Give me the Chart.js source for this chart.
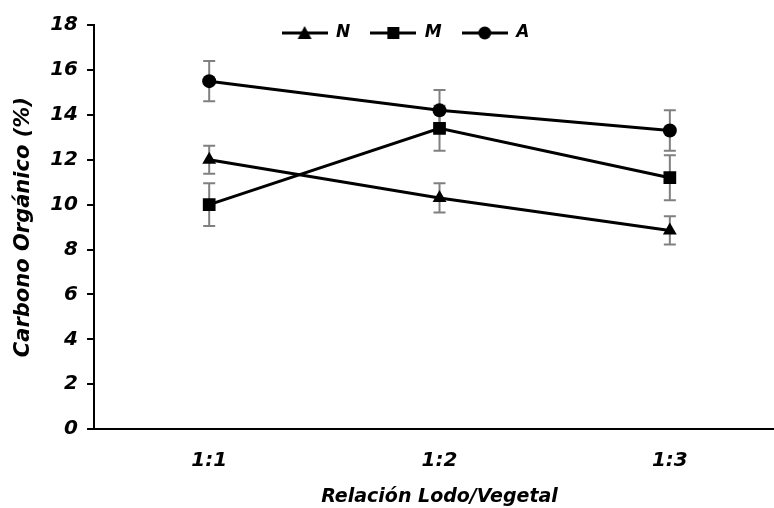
<!DOCTYPE html>
<html>
<head>
<meta charset="utf-8">
<script src="https://cdn.jsdelivr.net/npm/chart.js@4"></script>
<style>
  html, body { margin: 0; padding: 0; background: #fff; }
  #wrap { width: 774px; height: 508px; }
</style>
</head>
<body>
<div id="wrap"><canvas id="c" width="774" height="508"></canvas></div>
<script>
// Relación lodo/vegetal
const categories = ['1:1', '1:2', '1:3'];
// Carbono orgánico (%) por tratamiento
const seriesN = [12.0, 10.3, 8.85];
const seriesM = [10.0, 13.4, 11.2];
const seriesA = [15.5, 14.2, 13.3];
// Desviación (barras de error)
const errN = [0.62, 0.65, 0.63];
const errM = [0.95, 1.0, 1.0];
const errA = [0.9, 0.9, 0.9];
const yTicks = [0, 2, 4, 6, 8, 10, 12, 14, 16, 18];

const FONT = '"DejaVu Sans", sans-serif';
const W = 'bold';
// the x axis runs past the right edge of the canvas
const xOverhang = 20;
// extra room above the top of the y axis
const yTopInset = 4;

// Legend swatch: line with the marker in the middle
function swatch(kind) {
  const cv = document.createElement('canvas');
  cv.width = 46; cv.height = 16;
  const g = cv.getContext('2d');
  g.strokeStyle = '#000'; g.fillStyle = '#000'; g.lineWidth = 3;
  g.beginPath(); g.moveTo(0, 8); g.lineTo(46, 8); g.stroke();
  g.beginPath();
  if (kind === 'triangle') { g.moveTo(23, 1); g.lineTo(30, 14); g.lineTo(16, 14); g.closePath(); }
  else if (kind === 'rect') { g.rect(17, 2, 12, 12); }
  else { g.arc(23, 8, 6.5, 0, Math.PI * 2); }
  g.fill();
  return cv;
}

const errorBars = {
  id: 'errorBars',
  beforeDatasetsDraw(chart) {
    const { ctx, scales: { x, y } } = chart;
    ctx.save();
    ctx.strokeStyle = '#808080';
    ctx.lineWidth = 2;
    chart.data.datasets.forEach(ds => {
      ds.data.forEach((v, i) => {
        const px = x.getPixelForValue(i);
        const top = y.getPixelForValue(v + ds.err[i]);
        const bot = y.getPixelForValue(v - ds.err[i]);
        ctx.beginPath();
        ctx.moveTo(px, top); ctx.lineTo(px, bot);
        ctx.moveTo(px - 6, top); ctx.lineTo(px + 6, top);
        ctx.moveTo(px - 6, bot); ctx.lineTo(px + 6, bot);
        ctx.stroke();
      });
    });
    ctx.restore();
  }
};

// Legend in the top band of the plot; axes nudged to their final extents
const layoutTweaks = {
  id: 'layoutTweaks',
  afterLayout(chart) {
    const lg = chart.legend;
    if (lg) {
      const dy = (28 - lg.height / 2) - lg.top;
      lg.top += dy; lg.bottom += dy;
      lg.left += 13; lg.right += 13;
    }
    const area = chart.chartArea;
    const x = chart.scales.x;
    x.right += xOverhang; x.width += xOverhang;
    area.right += xOverhang; area.width += xOverhang;
    x.configure();
    const y = chart.scales.y;
    y.top += yTopInset; y.height -= yTopInset;
    area.top += yTopInset; area.height -= yTopInset;
    y.configure();
  }
};

const styles = ['triangle', 'rect', 'circle'];
const sizes = [8, 9, 7];

function ds(label, data, err, i) {
  return {
    label, data, err,
    borderColor: '#000', backgroundColor: '#000',
    borderWidth: 3, pointStyle: styles[i], pointRadius: sizes[i],
    pointBorderWidth: 0, tension: 0, fill: false,
    legendSwatch: swatch(styles[i])
  };
}

new Chart(document.getElementById('c'), {
  type: 'line',
  data: {
    labels: categories,
    datasets: [
      ds('N', seriesN, errN, 0),
      ds('M', seriesM, errM, 1),
      ds('A', seriesA, errA, 2)
    ]
  },
  options: {
    responsive: false,
    animation: false,
    layout: { padding: { top: -28, right: 0, left: 11, bottom: 0 } },
    plugins: {
      legend: {
        position: 'top',
        align: 'center',
        labels: {
          usePointStyle: true,
          pointStyleWidth: 46,
          padding: 20,
          color: '#000',
          font: { family: FONT, size: 17, weight: W, style: 'italic' },
          generateLabels(chart) {
            return chart.data.datasets.map((d, i) => ({
              text: d.label,
              pointStyle: d.legendSwatch,
              fillStyle: '#000', strokeStyle: '#000', lineWidth: 0,
              fontColor: '#000', hidden: false, datasetIndex: i
            }));
          }
        }
      },
      tooltip: { enabled: false }
    },
    scales: {
      x: {
        type: 'category',
        offset: true,
        grid: { display: false },
        border: { color: '#000', width: 2 },
        ticks: {
          color: '#000', padding: 12,
          font: { family: FONT, size: 20, weight: W, style: 'italic' }
        },
        title: {
          display: true, text: 'Relación Lodo/Vegetal', color: '#000',
          padding: { top: 0, bottom: 0 },
          font: { family: FONT, size: 19, weight: W, style: 'italic' }
        }
      },
      y: {
        min: 0, max: 18,
        afterBuildTicks(axis) { axis.ticks = yTicks.map(v => ({ value: v })); },
        grid: { drawOnChartArea: false, drawTicks: true, tickLength: 7, color: '#000', lineWidth: 2 },
        border: { color: '#000', width: 2 },
        ticks: {
          color: '#000', padding: 9,
          font: { family: FONT, size: 20, weight: W, style: 'italic' }
        },
        title: {
          display: true, text: 'Carbono Orgánico (%)', color: '#000',
          padding: { top: 0, bottom: 5 },
          font: { family: FONT, size: 21, weight: W, style: 'italic' }
        }
      }
    }
  },
  plugins: [errorBars, layoutTweaks]
});
</script>
</body>
</html>
